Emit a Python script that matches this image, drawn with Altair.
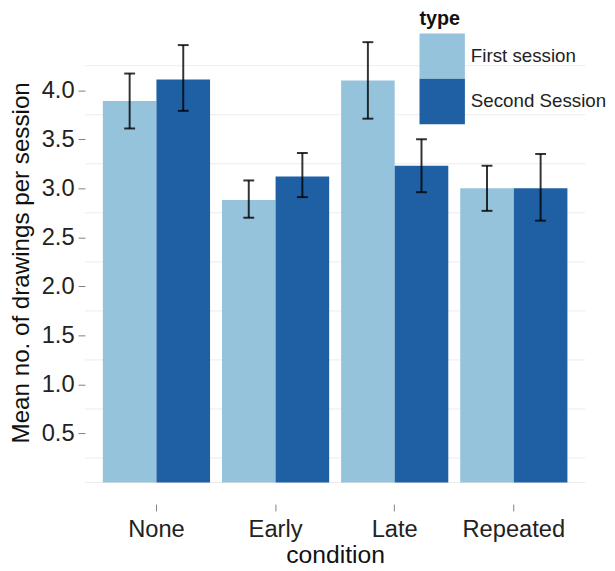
import altair as alt
import pandas as pd

conditions = ["None", "Early", "Late", "Repeated"]
types = ["First session", "Second Session"]
first_mean = [3.89, 2.88, 4.10, 3.00]
second_mean = [4.11, 3.12, 3.23, 3.00]
first_lo = [3.61, 2.70, 3.71, 2.77]
first_hi = [4.17, 3.08, 4.49, 3.23]
second_lo = [3.79, 2.91, 2.96, 2.67]
second_hi = [4.46, 3.36, 3.50, 3.35]
y_ticks = [0.5, 1.0, 1.5, 2.0, 2.5, 3.0, 3.5, 4.0]
grid_lines = [0.0, 0.25, 0.75, 1.25, 1.75, 2.25, 2.75, 3.25, 3.75, 4.25]
colors = ["#96c3dc", "#1e60a3"]

rows = []
for i, c in enumerate(conditions):
    rows.append({"condition": c, "type": types[0], "mean": first_mean[i],
                 "lo": first_lo[i], "hi": first_hi[i]})
    rows.append({"condition": c, "type": types[1], "mean": second_mean[i],
                 "lo": second_lo[i], "hi": second_hi[i]})
df = pd.DataFrame(rows)
grid_df = pd.DataFrame({"g": grid_lines})

FONT = "Liberation Sans"
YTITLE = "Mean no. of drawings per session"
yscale = alt.Scale(domain=[-0.22, 4.71], nice=False, zero=False)
xscale = alt.Scale(paddingInner=0.1, paddingOuter=0.15)
xoff_scale = alt.Scale(domain=types, paddingInner=0, paddingOuter=0)

y_axis = alt.Axis(title=YTITLE, values=y_ticks, format=".1f", domain=False, grid=False,
                  tickColor="#7f7f7f", tickSize=7, tickWidth=1,
                  labelPadding=4, labelFontSize=24, labelColor="#222222",
                  titleFontSize=24.5, titleFontWeight="normal",
                  titleColor="#111111", titlePadding=8)

x_enc = alt.X("condition:N", sort=conditions, scale=xscale,
              axis=alt.Axis(title="condition", labelAngle=0, domain=False, grid=False,
                            tickColor="#7f7f7f", tickSize=7, tickWidth=1,
                            labelPadding=7, labelFontSize=24, labelColor="#222222",
                            titleFontSize=25, titleFontWeight="normal",
                            titleColor="#111111", titlePadding=1))
xo_enc = alt.XOffset("type:N", sort=types, scale=xoff_scale)

grid = alt.Chart(grid_df).mark_rule(color="#ececec", strokeWidth=1).encode(
    y=alt.Y("g:Q", scale=yscale, axis=y_axis, title=YTITLE)
)

bars = alt.Chart(df).mark_bar().encode(
    x=x_enc,
    xOffset=xo_enc,
    y=alt.Y("mean:Q", scale=yscale, axis=y_axis, title=YTITLE),
    y2=alt.datum(0),
    color=alt.Color("type:N", sort=types,
                    scale=alt.Scale(domain=types, range=colors),
                    legend=alt.Legend(orient="none", legendX=339, legendY=-12,
                                      title="type", titleFontSize=20,
                                      titleFontWeight="bold", titleColor="#111111",
                                      titlePadding=5, labelFontSize=19,
                                      labelColor="#222222", labelOffset=6,
                                      symbolType="square", symbolSize=2116,
                                      symbolStrokeWidth=0, symbolOpacity=1,
                                      rowPadding=0, padding=0)),
)

err = alt.Chart(df).mark_rule(color="black", strokeWidth=2, opacity=0.8).encode(
    x=alt.X("condition:N", sort=conditions, scale=xscale),
    xOffset=xo_enc,
    y=alt.Y("lo:Q", scale=yscale, axis=y_axis, title=YTITLE),
    y2="hi:Q",
)
cap_lo = alt.Chart(df).mark_tick(color="black", thickness=2, size=11, opacity=0.8).encode(
    x=alt.X("condition:N", sort=conditions, scale=xscale),
    xOffset=xo_enc,
    y=alt.Y("lo:Q", scale=yscale, axis=y_axis, title=YTITLE),
)
cap_hi = alt.Chart(df).mark_tick(color="black", thickness=2, size=11, opacity=0.8).encode(
    x=alt.X("condition:N", sort=conditions, scale=xscale),
    xOffset=xo_enc,
    y=alt.Y("hi:Q", scale=yscale, axis=y_axis, title=YTITLE),
)

chart = alt.layer(grid, bars, err, cap_lo, cap_hi).properties(
    width=507, height=490,
    autosize=alt.AutoSizeParams(type="none"),
    padding={"left": 78, "top": 9, "right": 22, "bottom": 62},
    background="white",
).configure(font=FONT).configure_view(stroke=None)

chart.save("out.html", embed_options={"renderer": "svg", "actions": False})
